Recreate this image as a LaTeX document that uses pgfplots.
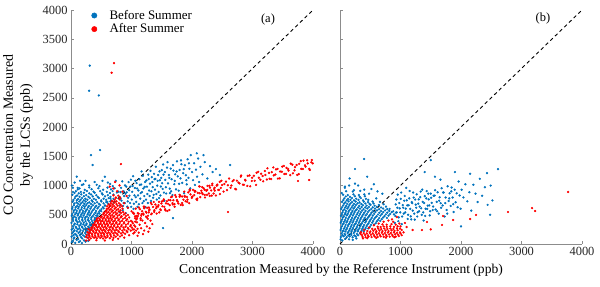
\documentclass[border=0pt]{standalone}
\usepackage{pgfplots}
\pgfplotsset{compat=1.18}
\usepackage{fontspec}
\setmainfont{Liberation Serif}
\definecolor{mblue}{RGB}{0,114,189}
\definecolor{mred}{RGB}{255,0,0}
\pgfplotsset{myax/.style={
  scale only axis, width=242bp, height=234bp,
  xmin=0, xmax=4000, ymin=0, ymax=4000,
  axis x line*=bottom, axis y line*=left,
  axis line style={draw=black!45},
  tick style={draw=black!45},
  tick align=inside, major tick length=3bp,
  xtick={0,1000,2000,3000,4000}, ytick={0,500,...,4000},
  scaled ticks=false,
  tick label style={font=\fontsize{12.5}{14}\selectfont, text=black!85},
  /pgf/number format/1000 sep={},
  /pgf/number format/assume math mode=true,
  clip=false,
}}
\pgfplotsset{bl/.style={only marks, mark=*, mark size=0.95bp, color=mblue, forget plot}}
\pgfplotsset{rd/.style={only marks, mark=*, mark size=0.95bp, color=mred, forget plot}}
\pgfplotsset{dg/.style={black, line width=0.9bp, dash pattern=on 3.5bp off 3bp, forget plot}}
\begin{document}
\begin{tikzpicture}[font=\fontsize{12.5}{14}\selectfont]
\useasboundingbox (0,0) rectangle (600bp,287bp);
% ---------------- panel (a)
\begin{axis}[myax, at={(71bp,43bp)}, anchor=south west,
  legend style={at={(0.072,1.017)}, anchor=north west, draw=none, fill=none,
    font=\fontsize{13}{14}\selectfont, row sep=-1bp},
  legend image code/.code={\path (-0.05cm,0) (0.46cm,0);\draw[#1] plot coordinates {(0cm,0cm)};},
  legend cell align=left]
\addlegendimage{only marks, mark=*, mark size=2.7bp, color=mblue}
\addlegendentry{Before Summer}
\addlegendimage{only marks, mark=*, mark size=2.7bp, color=mred}
\addlegendentry{After Summer}
% blue core
\addplot[bl] coordinates {
(30,55) (95,70) (150,48) (215,62)
(10,125) (55,110) (100,132) (165,118) (225,128) (265,112)
(22,185) (68,172) (125,190) (172,178) (235,188) (288,170)
(12,245) (58,232) (112,250) (158,238) (212,252) (262,240) (318,248)
(32,305) (78,292) (135,310) (182,298) (228,312) (285,296) (342,306)
(8,362) (62,350) (108,372) (165,355) (212,366) (258,352) (312,368) (368,358)
(28,425) (82,412) (128,430) (185,418) (232,428) (278,415) (335,426) (392,418)
(12,482) (58,470) (112,490) (162,476) (208,486) (262,472) (308,488) (362,478) (418,486)
(42,545) (88,532) (142,548) (192,536) (238,550) (292,538) (342,546) (402,534) (462,548)
(18,602) (72,592) (118,608) (172,596) (222,610) (268,594) (322,606) (382,598) (438,608) (502,596)
(48,662) (102,650) (148,668) (202,655) (252,666) (298,652) (362,664) (418,652) (482,668) (562,656)
(28,722) (92,710) (138,728) (192,716) (242,726) (302,712) (358,724) (432,714) (502,728) (582,716) (652,726)
(62,782) (118,770) (182,786) (238,774) (312,784) (378,772) (462,786) (538,774) (622,784) (702,772)
(22,842) (102,830) (168,848) (252,836) (332,846) (418,834) (522,846) (608,834) (702,844)
(82,902) (162,890) (262,906) (372,894) (482,904) (592,892) (688,904) (782,896)
(32,962) (142,950) (302,966) (452,954) (602,964) (722,952)
(205,1022) (425,1012) (648,1026)
(45,90) (120,85) (185,95) (40,150) (85,158) (145,152) (200,148) (250,160)
(42,212) (95,218) (145,208) (198,222) (250,212) (305,220)
(35,270) (88,275) (138,268) (188,280) (240,272) (292,268) (345,276)
(55,332) (105,338) (158,328) (205,338) (255,330) (315,336) (365,330)
(35,392) (88,398) (140,388) (190,398) (240,390) (292,396) (348,392) (400,388)
(35,452) (85,448) (138,458) (188,448) (238,456) (288,446) (338,456) (392,448)
(20,512) (68,508) (122,518) (172,508) (222,518) (275,508) (325,516) (380,508) (440,516)
(45,570) (95,566) (148,576) (198,566) (250,576) (302,566) (358,574) (412,566) (478,574)
(25,632) (78,628) (128,636) (178,628) (228,638) (282,628) (338,636) (398,628) (458,636) (528,628)
(55,692) (118,688) (168,696) (222,688) (272,696) (332,686) (392,696) (462,686) (538,696) (612,688)
(40,752) (98,748) (158,756) (212,746) (272,756) (342,746) (412,756) (498,746) (582,756) (662,746)
(75,812) (142,806) (212,816) (288,806) (358,814) (442,806) (562,814) (652,806)
(58,872) (128,866) (212,876) (302,866) (392,876) (512,866) (642,872)
(112,932) (228,926) (342,936) (532,928) (662,934)
(15,1000) (60,1050) (110,960) (180,1010) (240,1080) (95,1150) (300,1000) (390,1060) (470,990)
(520,1080) (610,1050) (690,990) (740,1080) (760,880) (820,780) (870,700) (900,860) (940,620)
(540,610) (560,660) (600,720) (650,780) (500,560) (470,520) (440,480) (420,440) (390,400) (360,360) (330,320) (300,280)
(12,30) (70,20) (130,35) (180,15) (240,40) (285,55)
(310,3050) (300,2620) (460,2540) (330,1520) (480,1606) (358,1350) (33,889) (150,1080) (560,1150)
(1521,273) (1686,444) (1636,871)
};
% blue band
\addplot[bl] coordinates {
(806,545) (819,887) (834,742) (847,1071) (861,651) (878,819) (893,1001) (906,529) (921,884) (937,728)
(952,1058) (966,826) (981,981) (995,636) (1011,892) (1026,1159) (1040,689) (1055,957) (1071,800) (1084,1041)
(1100,635) (1113,915) (1129,1107) (1144,775) (1158,1017) (1173,886) (1189,1166) (1203,733) (1218,976) (1232,631)
(1247,1086) (1262,854) (1276,1185) (1291,914) (1305,1032) (1321,737) (1336,1143) (1350,972) (1366,840) (1381,1108)
(1395,1113) (1411,856) (1425,999) (1440,1179) (1456,785) (1470,1089) (1485,982) (1499,1263) (1515,942) (1530,1186)
(1544,740) (1559,1096) (1574,863) (1588,1306) (1604,1036) (1618,1178) (1633,947) (1648,1289) (1662,1107) (1677,837)
(1693,1255) (1707,1022) (1722,1191) (1736,933) (1751,1413) (1766,1156) (1780,911) (1795,1266) (1810,1122) (1825,1364)
(1839,1044) (1854,1211) (1869,866) (1883,1347) (1898,1176) (1913,1020) (1927,1449) (1942,1130) (1957,1285) (1971,952)
(2001,1230) (2017,1090) (2034,1380) (2048,1010) (2066,1270) (2083,1150) (2101,1460) (2118,1060) (2140,1320) (2172,1190)
(2210,1400) (2253,1120) (2298,1330) (2340,1230) (2395,1280) (2460,1180) (2630,1350) (2190,1520) (2080,1550) (1980,1520)
(812,660) (828,960) (855,580) (872,900) (889,700) (913,980) (929,640) (945,790) (961,920) (976,700)
(990,1100) (1005,760) (1019,990) (1034,600) (1049,830) (1064,1080) (1078,720) (1093,950) (1108,830) (1122,680)
(1137,1010) (1151,870) (1166,1240) (1181,700) (1196,950) (1211,820) (1225,1060) (1240,760) (1255,980) (1270,700)
(1284,1110) (1299,820) (1314,1250) (1329,900) (1344,1060) (1358,790) (1373,1200) (1388,930) (1403,1320) (1418,760)
(1433,1080) (1448,890) (1463,1240) (1478,830) (1492,1130) (1507,1040) (1522,1360) (1537,880) (1552,1230) (1567,970)
(1596,1400) (1626,1130) (1655,900) (1686,1350) (1715,1080) (1745,1240) (1788,1030) (1818,1430) (1862,1280) (1906,1090) (1950,1380)
};
% red core
\addplot[rd] coordinates {
(282,102) (328,96) (382,108) (428,98) (482,104) (532,94) (578,106) (642,98) (702,104)
(262,152) (302,146) (352,156) (398,148) (452,154) (502,146) (548,158) (602,148) (652,156) (712,146) (772,154) (842,148)
(272,202) (318,196) (372,206) (418,198) (472,204) (522,196) (568,208) (622,198) (672,206) (732,196) (792,204) (862,196) (932,204)
(292,252) (338,246) (392,256) (438,248) (492,254) (542,246) (588,258) (642,248) (692,256) (752,246) (812,254) (882,246) (952,254) (1022,248)
(358,296) (412,306) (458,298) (512,304) (562,296) (608,308) (662,298) (712,306) (772,296) (832,304) (902,296) (982,304) (1062,296)
(388,346) (442,356) (488,348) (542,354) (592,346) (638,358) (692,348) (742,356) (802,346) (872,354) (942,346) (1022,354)
(418,396) (472,406) (518,398) (572,404) (622,396) (668,408) (722,398) (782,406) (842,396) (912,404) (992,396)
(448,446) (502,456) (548,448) (602,454) (652,446) (698,458) (762,448) (822,456) (892,446) (962,454)
(532,506) (578,498) (632,504) (682,496) (742,506) (802,498) (872,504) (942,496)
(572,556) (618,548) (672,554) (732,546) (792,556) (862,548)
(612,606) (658,598) (722,604) (782,596) (852,604)
(598,646) (652,656) (712,648) (772,654) (842,646)
(658,696) (722,706) (792,698)
(722,756) (802,764)
(702,832) (782,826) (762,902) (852,896) (802,1002) (826,1367) (711,3093) (672,2928)
(305,125) (355,128) (405,122) (455,130) (505,124) (555,128) (605,122) (665,128) (740,124) (810,128)
(298,178) (345,175) (395,182) (445,174) (495,180) (545,176) (595,182) (648,174) (700,180) (760,176) (825,182) (895,176)
(315,228) (365,224) (415,230) (465,224) (515,230) (565,224) (618,232) (668,224) (722,230) (782,224) (848,230) (918,224) (988,230)
(335,278) (385,274) (435,280) (485,274) (535,280) (585,274) (638,282) (688,274) (742,280) (802,274) (868,280) (938,274) (1008,280)
(365,328) (415,324) (465,330) (515,324) (565,330) (615,324) (668,332) (718,324) (772,330) (838,324) (908,330) (988,324)
(395,378) (445,374) (495,380) (545,374) (595,380) (645,374) (698,382) (752,374) (812,380) (878,374) (952,380)
(425,428) (475,424) (525,430) (575,424) (625,430) (675,424) (732,432) (792,424) (858,430) (928,424)
(505,474) (555,480) (605,474) (655,480) (712,474) (772,482) (838,474) (908,480)
(545,524) (595,530) (645,524) (702,530) (762,524) (828,532) (898,524)
(585,574) (638,580) (692,574) (752,580) (818,574)
(628,624) (682,630) (742,624) (808,630)
(625,678) (688,674) (752,680) (818,674)
(672,732) (752,728) (742,795) (812,790)
(250,60) (300,70) (420,65) (560,60) (690,70) (780,90) (880,110) (960,150) (1050,200) (1100,260)
(250,120) (290,190) (340,260) (390,330) (440,400) (490,460) (540,530) (590,600) (640,660) (690,730) (740,790)
(700,950) (880,700) (940,620) (1000,560) (1080,480) (920,820) (640,980) (730,1060)
(1030,180) (1075,230) (1120,195) (1160,270) (1210,230) (1255,300) (1300,270) (1345,340)
(1045,320) (1090,370) (1135,330) (1180,400) (1225,360) (1270,430) (1315,400)
(1060,440) (1105,480) (1150,440) (1195,520) (1240,470) (1285,540)
(1040,250) (1100,140) (1190,170) (1280,210)
};
% red band
\addplot[rd] coordinates {
(1012,379) (1035,523) (1058,471) (1071,605) (1093,443) (1117,517) (1139,595) (1152,410) (1176,559) (1198,501)
(1214,637) (1237,551) (1259,618) (1273,483) (1296,592) (1318,705) (1335,521) (1357,634) (1379,577) (1394,676)
(1416,520) (1438,638) (1455,719) (1477,592) (1493,692) (1512,645) (1534,762) (1556,595) (1571,695) (1593,564)
(1615,752) (1632,663) (1654,800) (1677,699) (1691,748) (1713,637) (1735,805) (1752,741) (1774,693) (1796,807)
(1815,669) (1837,811) (1858,758) (1872,894) (1894,732) (1916,805) (1938,882) (1953,698) (1975,847) (1997,789)
(2018,925) (2036,836) (2057,902) (2074,767) (2095,874) (2118,985) (2136,801) (2154,911) (2177,853) (2193,953)
(2215,795) (2238,911) (2256,992) (2279,864) (2297,964) (2318,915) (2336,1031) (2357,862) (2374,962) (2396,829)
(2417,1015) (2435,925) (2458,1062) (2476,958) (2497,1009)
(2522,896) (2561,1066) (2594,1004) (2638,960) (2671,1074) (2715,941) (2742,1083) (2786,1035) (2813,1171) (2857,1013)
(2884,1085) (2921,1164) (2962,986) (2993,1133) (3036,1080) (3068,1217) (3105,1133) (3142,1202) (3176,1071) (3214,1180)
(3247,1294) (3283,1114) (3318,1227) (3352,1172) (3389,1276) (3421,1119) (3458,1239) (3493,1323) (3527,1197) (3562,1302)
(3596,1255) (3631,1374) (3668,1208) (3702,1313) (3738,1181) (3771,1370) (3806,1285) (3843,1424) (3877,1323) (3912,1378)
(3948,1266) (3981,1435) (3995,1379)
(1024,538) (1063,382) (1104,527) (1161,483) (1203,638) (1248,534) (1287,624) (1326,508) (1368,718) (1407,612)
(1446,666) (1484,579) (1523,738) (1562,573) (1604,687) (1643,747) (1684,676) (1722,835) (1763,725) (1805,830)
(1846,665) (1883,808) (1925,759) (1964,912) (2006,807) (2047,894) (2086,776) (2127,983) (2166,875) (2208,927)
(2247,839) (2288,996) (2327,828) (2366,940) (2408,997) (2447,924) (2486,1081)
(2535,1024) (2578,920) (2613,1119) (2652,1000) (2690,1094) (2728,934) (2769,1050) (2806,1150) (2842,1014) (2877,1098)
(2915,993) (2951,1172) (2988,1077) (3022,1166) (3059,1010) (3094,1234) (3131,1099) (3167,1163) (3203,1248) (3238,1102)
(3272,1216) (3309,1110) (3344,1309) (3378,1188) (3414,1283) (3449,1122) (3485,1236) (3519,1335) (3554,1199) (3589,1283)
(3624,1177) (3659,1356) (3694,1260) (3729,1350) (3764,1194) (3798,1417) (3833,1282) (3868,1346) (3903,1430) (3937,1284) (3972,1398)
(1041,520) (1082,420) (1123,624) (1166,510) (1208,610) (1251,455) (1292,575) (1334,680) (1376,550) (1418,640)
(1459,540) (1501,725) (1543,635) (1586,731) (1627,581) (1669,811) (1711,681) (1752,751) (1794,841) (1836,701)
(1877,821) (1919,721) (1961,926) (2003,811) (2044,908) (2086,751) (2127,868) (2169,971) (2211,838) (2252,926)
(2294,823) (2336,1006) (2377,913) (2419,1006) (2461,853)
(2595,547) (3752,1077) (3935,1094)
};
\addplot[dg] coordinates {(0,0) (4000,4000)};
\end{axis}
% ---------------- panel (b)
\begin{axis}[myax, at={(340bp,43bp)}, anchor=south west, yticklabels={}]
\addplot[bl] coordinates {
(15,120) (60,132) (110,118) (160,128) (210,115) (260,130)
(25,180) (75,172) (125,188) (175,176) (225,186) (280,172) (330,184)
(10,240) (55,232) (105,248) (155,236) (205,246) (255,232) (305,244) (360,236) (410,248)
(30,300) (80,292) (130,308) (180,296) (230,306) (280,292) (335,304) (385,296) (440,308) (495,296)
(12,360) (58,352) (108,368) (158,356) (208,366) (258,352) (312,364) (362,356) (418,368) (472,356) (532,366) (592,356)
(35,420) (85,412) (135,428) (185,416) (235,426) (285,412) (338,424) (392,416) (448,428) (505,416) (565,426) (628,414) (690,426)
(15,480) (62,472) (112,488) (162,476) (212,486) (262,472) (315,484) (368,476) (425,488) (482,476) (542,486) (605,474) (668,486) (735,476) (802,486)
(40,540) (90,532) (140,548) (190,536) (240,546) (292,532) (345,544) (402,536) (462,548) (522,536) (585,546) (650,534) (715,546) (782,536) (855,546) (925,536)
(20,600) (72,592) (122,608) (172,596) (225,606) (278,592) (332,604) (390,596) (452,608) (515,596) (578,606) (645,594) (712,606) (782,596)
(52,660) (102,652) (155,668) (210,656) (262,666) (318,652) (378,664) (440,656) (505,668) (572,656) (642,666)
(32,720) (88,712) (142,728) (198,716) (258,726) (322,712) (392,724) (462,716) (538,726)
(72,780) (132,772) (198,786) (268,774) (345,784) (428,772)
(52,842) (128,836) (222,848) (312,836) (402,848)
(102,902) (212,896) (335,908)
(82,982) (248,1032) (397,1453) (248,1282) (160,1120) (450,1150) (560,1020)
(38,150) (88,155) (138,148) (188,152) (238,146) (300,150)
(42,210) (90,214) (140,206) (190,216) (242,208) (292,216) (345,210) (392,214)
(20,270) (68,266) (118,274) (168,264) (218,274) (268,266) (322,272) (372,266) (425,274) (468,266)
(42,330) (92,326) (142,334) (192,326) (242,334) (292,324) (348,332) (398,326) (455,334) (512,326) (565,334)
(22,390) (72,386) (122,394) (172,386) (222,394) (272,384) (325,392) (378,386) (432,394) (488,386) (548,394) (608,386) (665,394)
(45,450) (95,446) (148,454) (198,446) (250,454) (300,444) (352,452) (408,446) (465,454) (525,446) (585,454) (648,444) (712,454) (775,446)
(28,510) (78,506) (128,514) (178,506) (228,514) (278,504) (332,512) (385,506) (445,514) (502,506) (565,514) (628,504) (692,514) (758,506) (828,514) (892,506)
(50,570) (100,566) (152,574) (205,566) (258,574) (310,564) (365,572) (422,566) (485,574) (548,566) (612,574) (678,564) (745,574) (815,566)
(35,630) (88,626) (140,634) (192,626) (245,634) (300,624) (358,632) (418,626) (478,634) (542,626) (608,634) (678,624)
(65,690) (118,686) (172,694) (230,686) (290,694) (352,684) (418,692) (488,686) (555,694)
(55,750) (112,746) (172,754) (232,746) (305,754) (382,746) (468,754)
(95,812) (165,806) (245,816) (325,806) (412,816)
(30,870) (80,960) (150,1000) (230,920) (300,1000) (400,930) (480,860) (520,940) (600,780) (660,720)
(720,680) (760,640) (820,600) (880,560) (700,860) (620,900) (10,80) (40,60) (90,90) (150,80) (210,70) (270,95)
};
\addplot[bl] coordinates {
(905,362) (921,676) (938,542) (954,844) (971,456) (987,609) (1004,773) (1020,340) (1037,665) (1053,519)
(1070,821) (1086,605) (1103,747) (1119,428) (1136,662) (1152,906) (1169,473) (1185,717) (1202,571) (1218,794)
(1235,417) (1251,673) (1268,850) (1284,542) (1301,764) (1317,640) (1334,897) (1350,498) (1367,719) (1383,401)
(1400,818) (1416,603) (1433,905) (1449,655) (1466,762) (1482,489) (1499,861) (1515,703) (1532,580) (1548,825)
(1565,828) (1581,590) (1598,720) (1614,884) (1631,519) (1647,798) (1664,698) (1680,954) (1697,659) (1713,881)
(1730,470) (1746,795) (1763,581) (1779,986) (1796,736) (1812,866) (1829,651) (1845,965) (1862,795) (1878,546)
(1895,929) (1911,713) (1928,866) (1944,628) (1961,1068) (1977,830) (1994,603) (2010,928) (2040,796) (2072,1021)
(2105,729) (2138,886) (2170,570) (2205,1013) (2240,860) (2275,717) (2310,1115) (2350,824) (2395,971) (2440,669)
(2490,998) (2520,744)
(915,480) (932,760) (948,620) (964,390) (980,700) (996,540) (1012,880) (1028,470) (1045,620) (1061,740)
(1078,540) (1095,960) (1111,660) (1127,500) (1144,780) (1161,600) (1177,420) (1194,700) (1210,880) (1227,520)
(1243,760) (1260,620) (1277,470) (1293,690) (1309,560) (1326,800) (1342,610) (1359,930) (1375,540) (1392,700)
(1408,480) (1425,780) (1441,600) (1458,860) (1474,660) (1491,560) (1507,790) (1540,640) (1572,920) (1605,560)
(1640,740) (1672,620) (1705,880) (1740,700) (1772,520) (1806,780) (1840,900) (1872,680)
(1400,1230) (1500,1435) (1570,1150) (1900,1230) (2150,1200) (2430,1213) (2612,1280) (2000,300) (2480,500) (1660,1100)
};
\addplot[rd] coordinates {
(372,122) (422,116) (472,126) (522,118) (572,128) (622,120) (672,130) (722,122) (772,132) (822,124) (872,134) (922,126) (972,136)
(362,152) (412,156) (462,148) (512,158) (562,150) (612,160) (662,152) (712,162) (762,154) (812,164) (862,156) (912,166) (962,158)
(392,186) (442,180) (492,190) (542,182) (592,192) (642,184) (692,194) (742,186) (792,196) (842,188) (892,198) (942,190) (992,200)
(452,222) (502,216) (552,226) (602,218) (652,228) (702,220) (752,230) (802,222) (852,232) (902,224) (952,234)
(532,258) (582,252) (632,262) (682,254) (732,264) (782,256) (832,266) (882,258) (942,268) (992,262)
(622,296) (672,290) (722,300) (772,292) (832,302) (892,294) (952,304)
(702,336) (772,330) (852,340) (922,332) (880,380) (940,460)
(380,95) (450,100) (600,105) (760,110) (900,115) (1000,180) (1020,240) (1000,300) (980,350) (340,170)
(345,200) (400,240) (480,280) (560,320) (640,350) (720,380) (800,400) (860,420)
(1074,359) (1438,376) (1355,239) (1686,325) (1703,478) (2150,427) (2248,496) (1870,410)
(2777,547) (3174,615) (3224,564) (3770,890) (1050,200) (1100,290) (1020,150) (1500,250) (1200,240)
};
\addplot[dg] coordinates {(0,0) (4000,4000)};
\end{axis}
% ---------------- texts
\node[rotate=90, align=center, font=\fontsize{14}{17}\selectfont] at (18bp,152bp) {CO Concentration Measured\\by the LCSs (ppb)};
\node[font=\fontsize{13.6}{15}\selectfont] at (341bp,17bp) {Concentration Measured by the Reference Instrument (ppb)};
\node at (268bp,267bp) {(a)};
\node at (543bp,268bp) {(b)};
\end{tikzpicture}
\end{document}
